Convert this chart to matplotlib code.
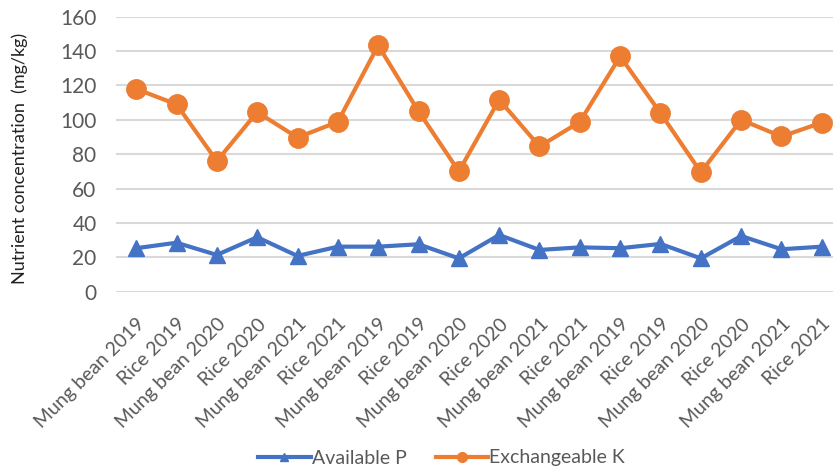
import matplotlib.pyplot as plt

plt.rcParams["font.family"] = ["Lato", "DejaVu Sans"]

# crop / year labels along the x axis
seasons = ["Mung bean 2019", "Rice 2019", "Mung bean 2020", "Rice 2020",
           "Mung bean 2021", "Rice 2021"] * 3

# nutrient concentrations (mg/kg)
available_p = [25.3, 28.5, 21.4, 31.7, 20.8, 26.2, 26.2, 27.6, 19.4,
               33.0, 24.3, 25.8, 25.3, 27.8, 19.4, 32.4, 24.7, 26.2]
exchangeable_k = [118, 109, 76, 104.5, 89.7, 98.8, 143.3, 105, 70,
                  111.7, 84.5, 98.8, 136.9, 103.9, 69.5, 100, 90.3, 98.4]

blue = "#4472C4"
orange = "#ED7D31"
grey = "#595959"

fig = plt.figure(figsize=(8.33, 4.72), dpi=100)
ax = fig.add_axes([116 / 833, 1 - 291.7 / 472, 726 / 833, 275 / 472])

x = range(len(seasons))
ax.plot(x, available_p, color=blue, linewidth=3, marker="^", markersize=12,
        label="Available P", zorder=3)
ax.plot(x, exchangeable_k, color=orange, linewidth=3, marker="o", markersize=14,
        label="Exchangeable K", zorder=3)

ax.set_xlim(-0.5, len(seasons) - 0.5)
ax.set_ylim(0, 160)
ax.set_yticks(range(0, 161, 20))
ax.grid(axis="y", color="#D9D9D9", linewidth=1.5)
ax.set_axisbelow(True)
for s in ax.spines.values():
    s.set_visible(False)
ax.tick_params(length=0, colors=grey, labelsize=15)
ax.tick_params(axis="y", pad=14)

ax.set_xticks(list(x))
ax.set_xticklabels(seasons, rotation=45, ha="right", rotation_mode="anchor",
                   fontsize=14)
ax.tick_params(axis="x", pad=17)

fig.text(0.024, 1 - 158 / 472, "Nutrient concentration  (mg/kg)", rotation=90,
         ha="center", va="center", fontsize=13, color="#222222")

fig.legend(loc="center", bbox_to_anchor=(441.5 / 833, 1 - 458 / 472), ncol=2,
           frameon=False, fontsize=14, labelcolor=grey, handlelength=2.7,
           columnspacing=1.5, handletextpad=0.05, markerscale=0.5)

fig.savefig("out.png", dpi=100)
